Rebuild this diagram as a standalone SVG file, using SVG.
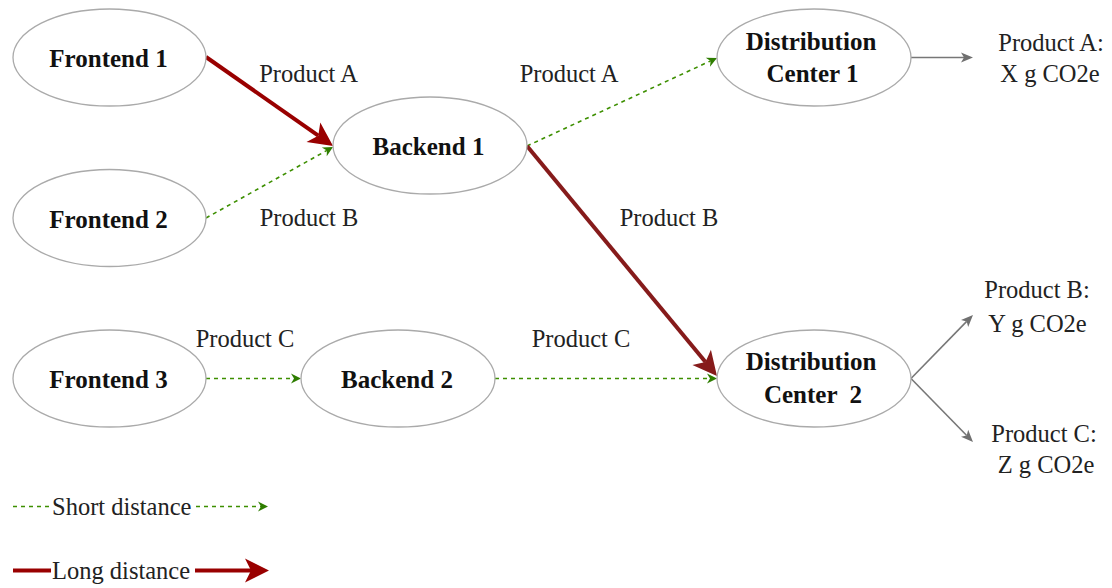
<svg xmlns="http://www.w3.org/2000/svg" width="1112" height="588" viewBox="0 0 1112 588">
<style>
.node ellipse{fill:#fff;stroke:#aaaaaa;stroke-width:1.3}
.nl{font-family:'Liberation Serif','Times New Roman',serif;font-size:25px;font-weight:bold;fill:#111;text-anchor:middle}
.lb{font-family:'Liberation Serif','Times New Roman',serif;font-size:24.5px;fill:#222;text-anchor:middle}
.lg{font-family:'Liberation Serif','Times New Roman',serif;font-size:24.5px;fill:#222}
.long{fill:none;stroke:#990000;stroke-width:4;marker-end:url(#mRed)}
.long2{fill:none;stroke:#861b1b;stroke-width:4;marker-end:url(#mRed2)}
.short{fill:none;stroke:#3d8f00;stroke-width:1.6;stroke-dasharray:4 4;marker-end:url(#mGreen)}
.out{fill:none;stroke:#777;stroke-width:1.6;marker-end:url(#mGray)}
</style>
<defs>
<marker id="mRed" markerUnits="userSpaceOnUse" markerWidth="30" markerHeight="26" refX="6" refY="12" orient="auto" overflow="visible">
<path d="M0,0 L24,12 L0,24 L6,12 Z" fill="#990000"/>
</marker>
<marker id="mRed2" markerUnits="userSpaceOnUse" markerWidth="30" markerHeight="26" refX="6" refY="12" orient="auto" overflow="visible">
<path d="M0,0 L24,12 L0,24 L6,12 Z" fill="#861b1b"/>
</marker>
<marker id="mGreen" markerUnits="userSpaceOnUse" markerWidth="12" markerHeight="12" refX="3" refY="5" orient="auto" overflow="visible">
<path d="M0,0 L10,5 L0,10 L3,5 Z" fill="#2e7d00"/>
</marker>
<marker id="mGray" markerUnits="userSpaceOnUse" markerWidth="14" markerHeight="12" refX="3" refY="5" orient="auto" overflow="visible">
<path d="M0,0 L12,5 L0,10 L3,5 Z" fill="#707070"/>
</marker>
</defs>
<g id="connectors">
<path class="long" d="M206,57 L318.3,135.7"/>
<path class="short" d="M206,218 L326.9,150.4"/>
<path class="short" d="M527,146 L710.6,60.9"/>
<path class="long2" d="M527,146 L705.5,362.1"/>
<path class="short" d="M206,378.5 L294,378.5"/>
<path class="short" d="M495,378.5 L710,378.5"/>
<path class="out" d="M911,57.5 L964,57.5"/>
<path class="out" d="M911,378.5 L966.7,321.4"/>
<path class="out" d="M911,378.5 L966.7,435.5"/>
<text class="lb" x="308.5" y="82">Product A</text>
<text class="lb" x="309" y="226">Product B</text>
<text class="lb" x="569" y="82">Product A</text>
<text class="lb" x="669" y="226">Product B</text>
<text class="lb" x="245" y="347">Product C</text>
<text class="lb" x="581" y="347">Product C</text>
</g>
<g id="frontend1" class="node"><ellipse cx="109.5" cy="57.5" rx="96.5" ry="48.5"/><text class="nl" x="108.5" y="67">Frontend 1</text></g>
<g id="frontend2" class="node"><ellipse cx="109.5" cy="218" rx="96.5" ry="48.5"/><text class="nl" x="108.5" y="227.5">Frontend 2</text></g>
<g id="frontend3" class="node"><ellipse cx="109.5" cy="378.5" rx="96.5" ry="48.5"/><text class="nl" x="108.5" y="388">Frontend 3</text></g>
<g id="backend1" class="node"><ellipse cx="430" cy="145.5" rx="97" ry="48.5"/><text class="nl" x="428.5" y="154.5">Backend 1</text></g>
<g id="backend2" class="node"><ellipse cx="398" cy="378.5" rx="97" ry="48.5"/><text class="nl" x="397" y="388">Backend 2</text></g>
<g id="dc1" class="node"><ellipse cx="814" cy="57.5" rx="97" ry="48.5"/><text class="nl" x="811" y="50">Distribution</text><text class="nl" x="812.5" y="82">Center 1</text></g>
<g id="dc2" class="node"><ellipse cx="814" cy="378.5" rx="97" ry="48.5"/><text class="nl" x="811" y="370">Distribution</text><text class="nl" x="813" y="403" xml:space="preserve">Center  2</text></g>
<g id="outA"><text class="lb" x="1051" y="51">Product A:</text><text class="lb" x="1050" y="82">X g CO2e</text></g>
<g id="outB"><text class="lb" x="1037" y="298">Product B:</text><text class="lb" x="1037.5" y="332">Y g CO2e</text></g>
<g id="outC"><text class="lb" x="1044" y="442">Product C:</text><text class="lb" x="1046" y="473">Z g CO2e</text></g>
<g id="legend">
<path fill="none" stroke="#3d8f00" stroke-width="1.6" stroke-dasharray="4 4" d="M13,506.5 L50,506.5"/>
<path class="short" d="M196,506.5 L261,506.5"/>
<text class="lg" x="52" y="515">Short distance</text>
<path fill="none" stroke="#990000" stroke-width="4" d="M13,570.5 L51,570.5"/>
<path class="long" d="M195,570.5 L251,570.5"/>
<text class="lg" x="52" y="579">Long distance</text>
</g>
</svg>
